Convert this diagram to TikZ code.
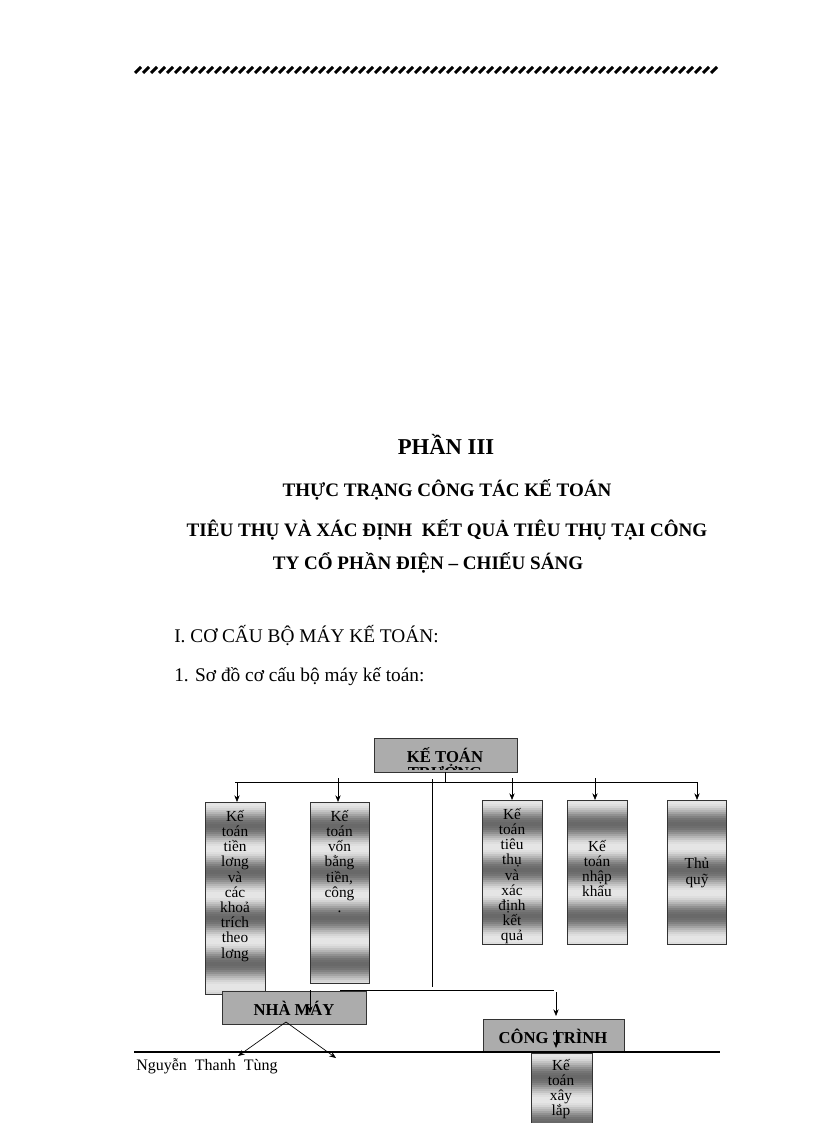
\documentclass[tikz,border=0pt]{standalone}
\usepackage{fontspec}
\setmainfont{Liberation Serif}
\usetikzlibrary{arrows.meta}
\tikzset{
  tbox/.style={draw=black!80, line width=0.6pt},
  hbox/.style={draw=black!80, line width=0.6pt, fill=gray!65},
  conn/.style={line width=0.5pt},
  arr/.style={line width=0.5pt,-{Stealth[length=5pt,width=4pt]}},
  btxt/.style={font=\fontsize{11.5pt}{11.4pt}\selectfont, align=center, anchor=north, inner sep=0pt},
  htxt/.style={font=\bfseries\fontsize{12.5pt}{13pt}\selectfont, inner sep=0pt},
}
% metallic banded fill: x1 y1 x2 y2
\newcommand{\metal}[4]{%
  \begin{scope}\clip (#1,#2) rectangle (#3,#4);
  \foreach \k in {0,...,100} {
    \pgfmathsetmacro{\g}{int(10+50*(1-cos(\k*15.652))/2)}
    \fill[black!\g] (#1,{#2+\k*2}) rectangle (#3,{#2+\k*2+3.5});
  }
  \end{scope}
  \draw[tbox] (#1,#2) rectangle (#3,#4);}
\newcommand{\tallbox}[6]{%
  \metal{#2}{#3}{#4}{#5}
  \begin{scope}\clip (#2,#3) rectangle (#4,#5);
  \node[btxt] (#1) at ({(#2+#4)/2},{#3+8}) {#6};
  \end{scope}}
\begin{document}
\begin{tikzpicture}[x=0.75pt,y=-0.75pt]
\useasboundingbox (0,0) rectangle (816,1123);
% header hatch
\foreach \i in {0,...,72} {\draw[line width=2.2pt] ({135+8*\i},73) -- ({141+8*\i},67);}
% titles
\node[font=\bfseries\fontsize{17pt}{20pt}\selectfont] (t0) at (446,444) {PHẦN III};
\node[font=\bfseries\fontsize{14.3pt}{17pt}\selectfont] (t1) at (447,490) {THỰC TRẠNG CÔNG TÁC KẾ TOÁN};
\node[font=\bfseries\fontsize{14.3pt}{17pt}\selectfont] (t2) at (447,530) {TIÊU THỤ VÀ XÁC ĐỊNH \ KẾT QUẢ TIÊU THỤ TẠI CÔNG};
\node[font=\bfseries\fontsize{14.3pt}{17pt}\selectfont] (t3) at (428,563) {TY CỔ PHẦN ĐIỆN – CHIẾU SÁNG};
\node[font=\fontsize{14.5pt}{17pt}\selectfont, anchor=west, inner sep=0pt] (s1) at (174,636) {I. CƠ CẤU BỘ MÁY KẾ TOÁN:};
\node[font=\fontsize{14.5pt}{17pt}\selectfont, anchor=west, inner sep=0pt] (s2) at (174,677) {1. Sơ đồ cơ cấu bộ máy kế toán:};
% top box
\draw[hbox] (374,738) rectangle (517,772);
\begin{scope}\clip (374,738) rectangle (517,769);
\node[htxt, align=center, anchor=north] (top) at (445,747) {KẾ TOÁN\\[-1pt]TRƯỞNG};
\end{scope}
\coordinate (ts) at (445,772);
\draw[conn] (ts) -- (445,782);
\coordinate (hl) at (235,782); \coordinate (hr) at (697,782);
\draw[conn] (hl) -- (hr);
% tall boxes
\tallbox{b1}{205}{802}{265}{994}{Kế\\toán\\tiền\\lơng\\và\\các\\khoả\\trích\\theo\\lơng}
\tallbox{b2}{310}{802}{369}{983}{Kế\\toán\\vốn\\bằng\\tiền,\\công\\.}
\tallbox{b3}{482}{800}{542}{944}{Kế\\toán\\tiêu\\thụ\\và\\xác\\định\\kết\\quả}
\metal{567}{800}{627}{944}
\node[btxt] (b4) at (597,840) {Kế\\toán\\nhập\\khẩu};
\metal{667}{800}{726}{944}
\node[btxt] (b5) at (697,858) {Thủ\\quỹ};
\coordinate (a1) at (237,782); \coordinate (a1e) at (237,802);
\coordinate (a2) at (338,778); \coordinate (a2e) at (338,802);
\coordinate (a3) at (512,778); \coordinate (a3e) at (512,800);
\coordinate (a4) at (595,778); \coordinate (a4e) at (595,800);
\coordinate (a5) at (697,782); \coordinate (a5e) at (697,800);
\foreach \p in {1,...,5} {\draw[arr] (a\p) -- (a\p e);}
\coordinate (v1) at (432,779); \coordinate (v2) at (432,987);
\draw[conn] (v1) -- (v2);
% lower
\coordinate (m1) at (340,990); \coordinate (m2) at (554,990);
\draw[conn] (m1) -- (m2);
\coordinate (c1) at (556,992); \coordinate (c1e) at (556,1016);
\draw[arr] (c1) -- (c1e);
\draw[hbox] (222,991) rectangle (366,1024);
\node[htxt] (nm) at (294,1008) {NHÀ MÁY};
\coordinate (n1) at (310,990); \coordinate (n1e) at (310,1013);
\draw[arr] (n1) -- (n1e);
\coordinate (ap) at (286,1022);
\coordinate (al) at (238,1056); \coordinate (ar) at (336,1058);
\draw[arr] (ap) -- (al);
\draw[arr] (ap) -- (ar);
\draw[hbox] (483,1019) rectangle (624,1052);
\node[htxt] (ct) at (553,1036) {CÔNG TRÌNH};
\coordinate (c2) at (556,1030); \coordinate (c2e) at (556,1048);
\draw[arr] (c2) -- (c2e);
\metal{531}{1053}{592}{1130}
\node[btxt] (b6) at (561,1059) {Kế\\toán\\xây\\lắp};
\coordinate (fl) at (134,1052); \coordinate (fr) at (720,1052);
\draw[line width=1.2pt] (fl) -- (fr);
\node[font=\fontsize{12pt}{14pt}\selectfont, anchor=west, inner sep=0pt] (au) at (136,1066) {Nguyễn \ Thanh \ Tùng};
\end{tikzpicture}
\end{document}
